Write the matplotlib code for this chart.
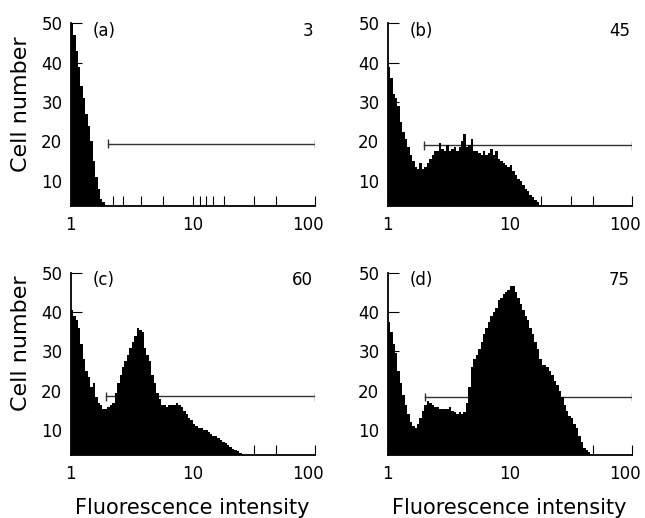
"""
Flow cytometry histograms (a)-(d): cell number vs fluorescence intensity
"""
import numpy as np
import matplotlib
matplotlib.use('Agg')
import matplotlib.pyplot as plt
import matplotlib.transforms as mtrans

plt.rcParams['font.family'] = ['DejaVu Sans']

# ── data (log bins, 0.02 decade wide, starting at intensity 1) ──────────────
BIN_DEC = 0.02

hist_a = [50, 47, 43, 39, 34, 31, 27, 24, 20, 15, 11, 8, 5.5, 4.5, 3.8]

hist_b = [39, 36, 32, 31, 29, 25, 22.5, 20.5, 18.5, 16.5, 15, 13.5, 13, 14.5,
          13, 13.5, 14.5, 15.5, 16.5, 17.5, 17.5, 19.5, 18, 17.5, 19, 17.5,
          18, 18.5, 17.5, 18.5, 20, 22, 18.5, 19, 20.5, 17.5, 17.5, 17, 16.5,
          17.5, 16.5, 17, 18, 16.5, 17.5, 15.5, 15, 14.5, 14, 13.5, 14, 12.5,
          11.5, 10.5, 10, 9, 8, 7.5, 6.5, 6, 5, 4.5, 3.8]

hist_c = [40.5, 39, 38, 36, 32, 28, 25, 23.5, 21, 22, 18.5, 17, 16.5, 15.5,
          15.5, 16, 16.5, 17, 19.5, 22, 24, 26, 27.5, 29, 31, 32.5, 34, 36,
          35.5, 35, 31, 29, 27.5, 24, 22, 19.5, 18, 16.5, 16.5, 16, 16.5,
          16.5, 16.5, 17, 16.5, 16, 15, 14, 13, 12.5, 11.5, 11, 10.5, 10.5,
          10, 10, 9.5, 9, 8.5, 8.5, 8, 7.5, 7, 6.8, 6.3, 5.8, 5.3, 5, 4.6,
          4.3, 4, 3.8]

hist_d = [37.5, 35, 32, 29.5, 25, 22, 19, 16.5, 14, 12, 11, 10.5, 11.5, 13,
          15, 16.5, 17.5, 17, 16.5, 16, 16, 15.5, 15.5, 15.5, 15.5, 16, 15,
          14.5, 14, 14.5, 14, 14.5, 17, 21, 26, 28, 29, 30.5, 32.5, 34.5, 36,
          37.5, 39, 40, 41, 43, 43.5, 44.5, 45, 45.5, 46.5, 46.5, 45, 43.5,
          42, 40.5, 39, 38, 36, 34.5, 32.5, 30.5, 28, 26.5, 26.5, 26, 25, 24,
          22.5, 21.5, 20, 18.5, 16.5, 15, 13.5, 13, 11.5, 10.5, 8.5, 7, 5.5,
          5, 4.5, 4, 3.7]

panel_tags = ['(a)', '(b)', '(c)', '(d)']
panel_pcts = ['3', '45', '60', '75']
hists = [hist_a, hist_b, hist_c, hist_d]

gate_lo = [2.03, 2.0, 1.95, 2.02]
gate_hi = [100, 100, 100, 100]
gate_y = [19.4, 19.0, 18.6, 18.4]

x_major = [1, 10, 100]
x_minor = [2.2, 2.7, 3.75, 5.7, 11.4, 12.7, 14.5, 17.9, 31.8, 47.9]
y_ticks = [10, 20, 30, 40, 50]

# ── layout ──────────────────────────────────────────────────────────────────
W, H = 645, 518
fig = plt.figure(figsize=(W / 100, H / 100), dpi=100, facecolor='white')

lefts = [70.7, 387.7, 70.7, 387.7]
tops = [23.3, 23.3, 272.7, 272.7]
AW, AH = 244.3, 182.7

for i in range(4):
    ax = fig.add_axes([lefts[i] / W, 1 - (tops[i] + AH) / H, AW / W, AH / H])
    vals = np.array(hists[i])
    edges = 10 ** (np.arange(len(vals) + 1) * BIN_DEC)
    ax.stairs(vals, edges, fill=True, color='black', baseline=0, zorder=3)

    # gate bar
    ax.plot([gate_lo[i], gate_hi[i]], [gate_y[i], gate_y[i]],
            color='#333333', lw=1.0, zorder=2)
    ax.vlines([gate_lo[i], gate_hi[i]], gate_y[i] - 1.1, gate_y[i] + 1.1,
              color='#333333', lw=1.0, zorder=2)

    ax.set_xscale('log')
    ax.set_xlim(1, 100)
    ax.set_ylim(3.6, 50)
    ax.set_xticks(x_major)
    ax.set_xticklabels([str(v) for v in x_major])
    ax.set_xticks(x_minor, minor=True)
    ax.set_yticks(y_ticks)
    ax.tick_params(axis='both', which='both', direction='in', width=0.8,
                   labelsize=12, colors='black')
    ax.tick_params(axis='x', which='both', length=7.5, pad=7)
    ax.tick_params(axis='y', length=8, pad=6)
    ax.tick_params(axis='x', which='minor', labelbottom=False)
    for s in ['top', 'right']:
        ax.spines[s].set_visible(False)
    for s in ['left', 'bottom']:
        ax.spines[s].set_linewidth(1.3)
    ax.set_facecolor('none')

    # the "100" label sits a little left of its tick, as in the original
    last = ax.get_xticklabels()[-1]
    last.set_transform(last.get_transform() +
                       mtrans.ScaledTranslation(-7 / 100, 0, fig.dpi_scale_trans))

    ax.text(0.09, 0.958, panel_tags[i], transform=ax.transAxes,
            fontsize=12, ha='left', va='center')
    ax.text(0.992, 0.958, panel_pcts[i], transform=ax.transAxes,
            fontsize=12, ha='right', va='center')

# axis titles
fig.text(21 / W, 1 - 104 / H, 'Cell number', rotation=90, fontsize=16,
         ha='center', va='center')
fig.text(21 / W, 1 - 343 / H, 'Cell number', rotation=90, fontsize=16,
         ha='center', va='center')
fig.text(192 / W, 4 / H, 'Fluorescence intensity', fontsize=15,
         ha='center', va='baseline')
fig.text(509 / W, 4 / H, 'Fluorescence intensity', fontsize=15,
         ha='center', va='baseline')

fig.savefig('out.png', dpi=100, facecolor='white')
plt.close()
